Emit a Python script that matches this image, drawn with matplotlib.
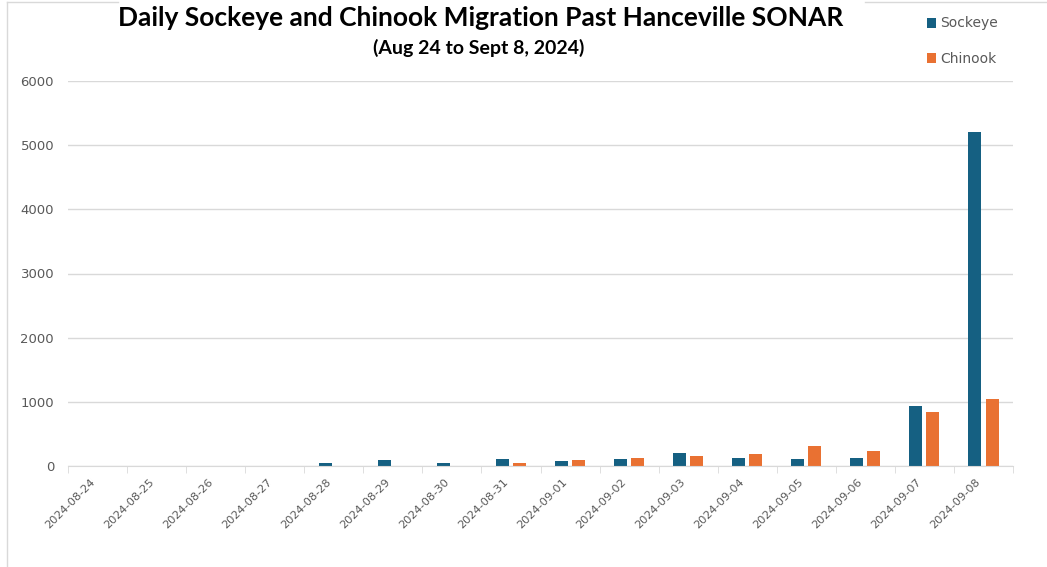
import matplotlib
matplotlib.use("Agg")
import matplotlib.pyplot as plt
import matplotlib.transforms as mtransforms
from matplotlib.lines import Line2D
import numpy as np

# ── Data ──────────────────────────────────────────────────────────────────────

DATES = ["2024-08-24", "2024-08-25", "2024-08-26", "2024-08-27", "2024-08-28",
         "2024-08-29", "2024-08-30", "2024-08-31", "2024-09-01", "2024-09-02",
         "2024-09-03", "2024-09-04", "2024-09-05", "2024-09-06", "2024-09-07",
         "2024-09-08"]
SOCKEYE = [0, 5, 0, 5, 50, 95, 50, 110, 75, 105, 200, 120, 110, 120, 940, 5200]
CHINOOK = [0, 0, 0, 0, 0, 0, 0, 40, 95, 120, 150, 180, 310, 230, 840, 1050]
Y_TICKS = [0, 1000, 2000, 3000, 4000, 5000, 6000]

SOCKEYE_COLOR = "#156082"
CHINOOK_COLOR = "#E97132"
TEXT_GRAY     = "#595959"
GRID_GRAY     = "#d9d9d9"

LABEL_FONT = ["Liberation Sans Narrow", "DejaVu Sans"]
TITLE_FONT = ["Lato", "DejaVu Sans"]

# ── Figure ────────────────────────────────────────────────────────────────────

W, H = 1047, 567
fig = plt.figure(figsize=(W / 100, H / 100), dpi=100)
ax = fig.add_axes([68 / W, 1 - 466 / H, (1013 - 68) / W, (466 - 81) / H])

x = np.arange(len(DATES))
bw = 0.22
ax.bar(x - 0.145, SOCKEYE, width=bw, color=SOCKEYE_COLOR, label="Sockeye", zorder=3)
ax.bar(x + 0.145, CHINOOK, width=bw, color=CHINOOK_COLOR, label="Chinook", zorder=3)

ax.set_xlim(-0.5, len(DATES) - 0.5)
ax.set_ylim(0, 6000)
ax.set_yticks(Y_TICKS)
ax.set_yticklabels([str(v) for v in Y_TICKS], fontsize=9.5, color=TEXT_GRAY,
                   family=LABEL_FONT)
ax.tick_params(axis="y", length=0, pad=10)
ax.grid(axis="y", color=GRID_GRAY, linewidth=1, zorder=0)

# category labels at centres, tick marks at the boundaries
ax.set_xticks(x)
ax.set_xticklabels(DATES, rotation=45, ha="right", rotation_mode="anchor",
                   fontsize=8.2, color=TEXT_GRAY, family=LABEL_FONT)
ax.tick_params(axis="x", length=0, pad=8)
shift = mtransforms.ScaledTranslation(-8 / 100, 0, fig.dpi_scale_trans)
for lab in ax.get_xticklabels():
    lab.set_transform(lab.get_transform() + shift)
ax.set_xticks(np.arange(len(DATES) + 1) - 0.5, minor=True)
ax.tick_params(axis="x", which="minor", length=5, color=GRID_GRAY)

for side in ["top", "right", "left"]:
    ax.spines[side].set_visible(False)
ax.spines["bottom"].set_color(GRID_GRAY)
ax.spines["bottom"].set_zorder(4)

# ── Title, legend, frame ──────────────────────────────────────────────────────

fig.text(481 / W, 1 - 18 / H, "Daily Sockeye and Chinook Migration Past Hanceville SONAR",
         ha="center", va="center", fontsize=19, fontweight="bold", family=TITLE_FONT)
fig.text(479 / W, 1 - 48 / H, "(Aug 24 to Sept 8, 2024)",
         ha="center", va="center", fontsize=14, fontweight="bold", family=TITLE_FONT)

leg = fig.legend(loc="upper left", bbox_to_anchor=(914 / W, 1 - 4 / H),
                 frameon=False, handlelength=0.7, handleheight=0.7,
                 handletextpad=0.3, labelspacing=1.55,
                 prop={"family": LABEL_FONT, "size": 10})
for t in leg.get_texts():
    t.set_color(TEXT_GRAY)

# light chart-area border, broken by the title
frame = dict(color=GRID_GRAY, linewidth=1, transform=fig.transFigure)
fig.add_artist(Line2D([7 / W, 7 / W], [0, 1 - 2 / H], **frame))
fig.add_artist(Line2D([7 / W, 118 / W], [1 - 2 / H, 1 - 2 / H], **frame))
fig.add_artist(Line2D([865 / W, 1], [1 - 2 / H, 1 - 2 / H], **frame))

fig.savefig("out.png", dpi=100, facecolor="white")
